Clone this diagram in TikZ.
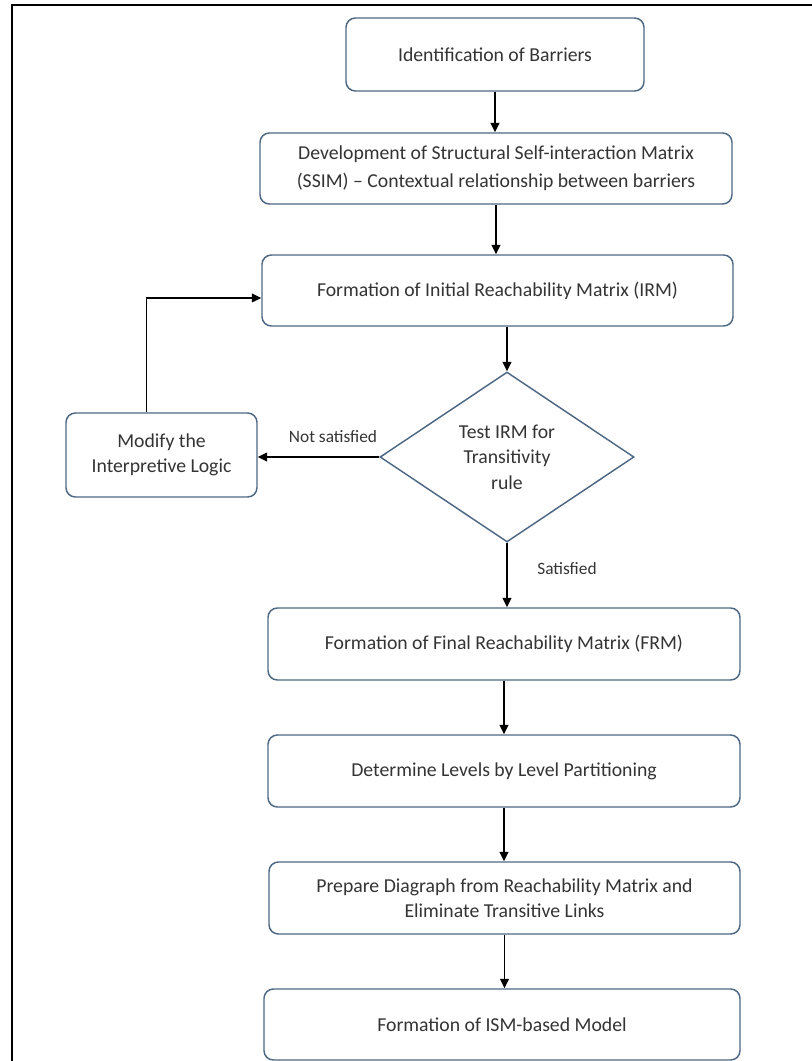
\documentclass[tikz,border=0pt]{standalone}
\usepackage{fontspec}
\setmainfont{Carlito}
\usetikzlibrary{shapes.geometric,arrows.meta}
\definecolor{edgeblue}{RGB}{78,104,132}
\definecolor{ink}{RGB}{52,52,52}
\begin{document}
\begin{tikzpicture}[x=0.75pt,y=-0.75pt,
  stepbox/.style={draw=edgeblue, line width=1.1pt, rounded corners=7pt,
    fill=white, text=ink, align=center, inner sep=0pt,
    font=\fontsize{14.8}{18.75}\selectfont},
  decision/.style={draw=edgeblue, line width=1.1pt, diamond, fill=white,
    text=ink, align=center, inner sep=0pt,
    font=\fontsize{14.8}{19.2}\selectfont},
  flow/.style={draw=black, line width=1.1pt,
    -{Triangle[length=7pt,width=6.5pt]}},
  tag/.style={text=ink, inner sep=0pt, font=\fontsize{13}{15.6}\selectfont}]
\useasboundingbox (0,0) rectangle (812,1061);

% outer frame: top and left rules only
\draw[line width=1.5pt] (12,1061) -- (12,5) -- (812,5);

% process steps
\node[stepbox, minimum width=223.5pt, minimum height=54.75pt] (ident) at (495,54.5)
  {Identification of Barriers};
\node[stepbox, minimum width=354pt, minimum height=53.25pt,
      font=\fontsize{14.8}{21}\selectfont] (ssim) at (496,168.5)
  {Development of Structural Self-interaction Matrix\\(SSIM) -- Contextual relationship between barriers};
\node[stepbox, minimum width=353.25pt, minimum height=53.25pt] (irm) at (497.5,290.5)
  {Formation of Initial Reachability Matrix (IRM)};
\node[decision, minimum width=190.5pt, minimum height=127.5pt] (test) at (507,457)
  {Test IRM for\\Transitivity\\rule};
\node[stepbox, minimum width=143.25pt, minimum height=63pt] (modify) at (161.5,455)
  {Modify the\\Interpretive Logic};
\node[stepbox, minimum width=354pt, minimum height=54pt] (frm) at (504,644)
  {Formation of Final Reachability Matrix (FRM)};
\node[stepbox, minimum width=354pt, minimum height=54pt] (levels) at (504,771)
  {Determine Levels by Level Partitioning};
\node[stepbox, minimum width=353.25pt, minimum height=54pt] (digraph) at (504.5,898)
  {Prepare Diagraph from Reachability Matrix and\\Eliminate Transitive Links};
\node[stepbox, minimum width=357pt, minimum height=53.25pt] (model) at (502,1024.5)
  {Formation of ISM-based Model};

% connector labels
\node[tag] (nosat) at (333,437) {Not satisfied};
\node[tag] (sat) at (567,569) {Satisfied};

% connectors
\draw[flow] (ident.south) -- (ident.south |- ssim.north);
\draw[flow] (ssim.south) -- (ssim.south |- irm.north);
\draw[flow] (test.north |- irm.south) -- (test.north);
\draw[flow] (test.west) -- (test.west -| modify.east);
\draw[flow] ([xshift=-11.1pt]modify.north) |- ([yshift=-5.6pt]irm.west);
\draw[flow] (test.south) -- (test.south |- frm.north);
\draw[flow] (frm.south) -- (frm.south |- levels.north);
\draw[flow] (levels.south) -- (levels.south |- digraph.north);
\draw[flow] (digraph.south) -- (digraph.south |- model.north);
\end{tikzpicture}
\end{document}
